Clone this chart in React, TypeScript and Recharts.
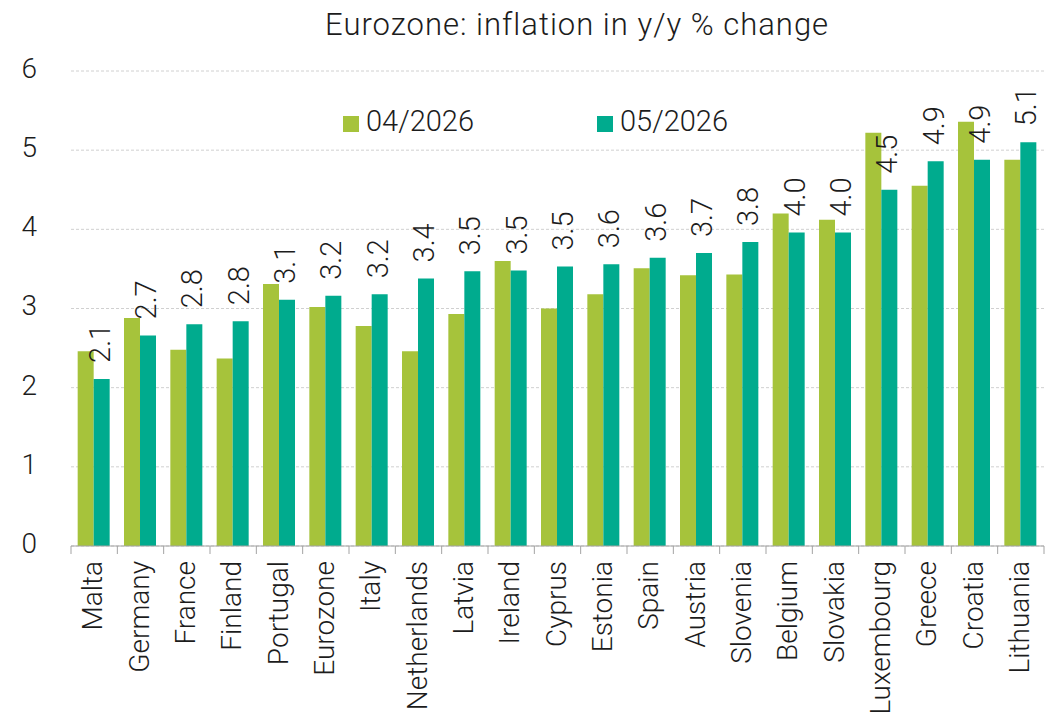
import React from "react"
import { BarChart, Bar, XAxis, YAxis, CartesianGrid, LabelList } from "recharts"

const countries = [
  "Malta", "Germany", "France", "Finland", "Portugal", "Eurozone", "Italy",
  "Netherlands", "Latvia", "Ireland", "Cyprus", "Estonia", "Spain", "Austria",
  "Slovenia", "Belgium", "Slovakia", "Luxembourg", "Greece", "Croatia", "Lithuania",
]
const apr2026 = [2.46, 2.88, 2.48, 2.37, 3.31, 3.02, 2.78, 2.46, 2.93, 3.6, 3.0, 3.18, 3.51, 3.42, 3.43, 4.2, 4.12, 5.22, 4.55, 5.36, 4.88]
const may2026 = [2.11, 2.66, 2.8, 2.84, 3.11, 3.16, 3.18, 3.38, 3.47, 3.48, 3.53, 3.56, 3.64, 3.7, 3.84, 3.96, 3.96, 4.5, 4.86, 4.88, 5.1]
const yTicks = [0, 1, 2, 3, 4, 5, 6]
const seriesNames = ["04/2026", "05/2026"]

const GREEN = "#A6C33B"
const TEAL = "#00AB8E"
const INK = "#1c1c1c"
const AXIS = "#a3a3a3"

const W = 1054
const H = 720
const margin = { top: 71, right: 10, bottom: 0, left: 21 }
const Y_AXIS_W = 50
const band = (W - margin.left - margin.right - Y_AXIS_W) / countries.length

const data = countries.map((country, i) => ({ country, apr: apr2026[i], may: may2026[i] }))

function CountryTick(props: any) {
  const { x, y, payload, index } = props
  const tx = x + 8
  const ty = y + 15
  return (
    <g>
      <line x1={x - band / 2} x2={x - band / 2} y1={y} y2={y + 8} stroke={AXIS} />
      {index === countries.length - 1 && (
        <line x1={x + band / 2} x2={x + band / 2} y1={y} y2={y + 8} stroke={AXIS} />
      )}
      <text x={tx} y={ty} transform={`rotate(-90, ${tx}, ${ty})`} textAnchor="end" fontSize={28} fill={INK}>
        {payload.value}
      </text>
    </g>
  )
}

function ValueLabel(props: any) {
  const { x, y, width, value } = props
  const tx = x + width / 2 + 8
  const ty = y - 16
  return (
    <text x={tx} y={ty} transform={`rotate(-90, ${tx}, ${ty})`} fontSize={29} fill={INK}>
      {Number(value).toFixed(1)}
    </text>
  )
}

function LegendBox() {
  const colors = [GREEN, TEAL]
  return (
    <div style={{ position: "absolute", left: 343, top: 104, display: "flex", fontSize: 29, color: INK, lineHeight: "34px" }}>
      {seriesNames.map((name, i) => (
        <div key={name} style={{ display: "flex", alignItems: "center", width: 254 }}>
          <span style={{ width: 16, height: 16, background: colors[i], marginRight: 7, marginTop: 6 }} />
          <span>{name}</span>
        </div>
      ))}
    </div>
  )
}

export default function App() {
  return (
    <div
      style={{
        position: "absolute",
        left: 0,
        top: 0,
        width: W,
        height: H,
        background: "#fff",
        fontFamily: "Roboto, 'Noto Sans', sans-serif",
        fontWeight: 300,
      }}
    >
      <div style={{ position: "absolute", left: 325, top: 6, fontSize: 31, letterSpacing: 1, color: INK, whiteSpace: "nowrap" }}>
        Eurozone: inflation in y/y % change
      </div>
      <BarChart width={W} height={H} data={data} margin={margin} barCategoryGap="14.4%" barGap={0}>
        <CartesianGrid vertical={false} stroke="#d0d0d0" strokeDasharray="3 2" />
        <XAxis
          dataKey="country"
          interval={0}
          height={174}
          tickLine={false}
          tickSize={0}
          tickMargin={0}
          axisLine={{ stroke: AXIS }}
          tick={<CountryTick />}
        />
        <YAxis
          width={Y_AXIS_W}
          domain={[0, 6]}
          ticks={yTicks}
          axisLine={false}
          tickLine={false}
          tickMargin={28}
          tick={{ fontSize: 28, fill: INK, dy: -3 }}
        />
        <Bar dataKey="apr" name={seriesNames[0]} fill={GREEN} isAnimationActive={false} />
        <Bar dataKey="may" name={seriesNames[1]} fill={TEAL} isAnimationActive={false}>
          <LabelList dataKey="may" content={<ValueLabel />} />
        </Bar>
      </BarChart>
      <LegendBox />
    </div>
  )
}
